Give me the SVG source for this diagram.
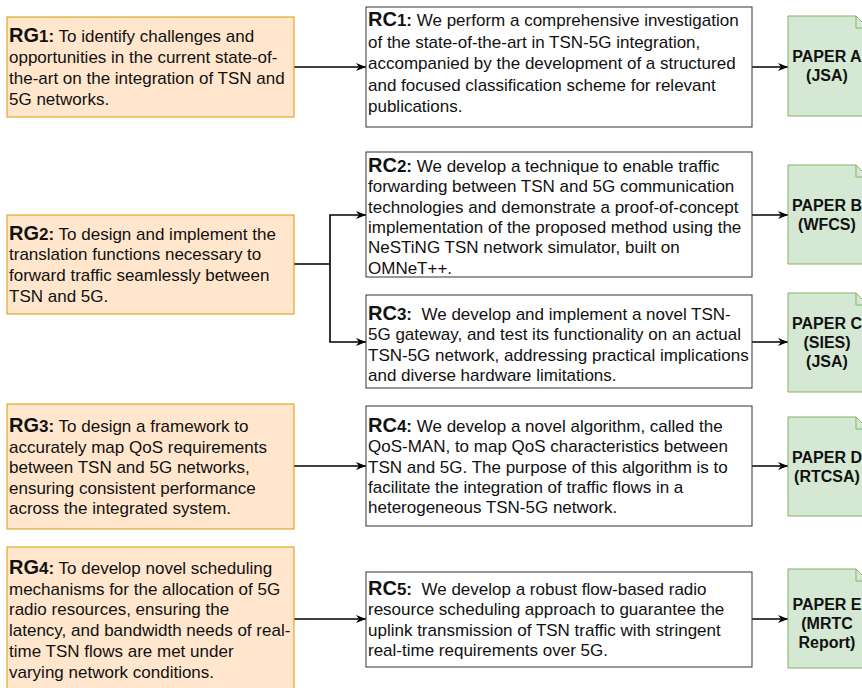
<svg xmlns="http://www.w3.org/2000/svg" width="862" height="688" viewBox="0 0 862 688">
<defs>
<style>
.rg{fill:#ffe6cc;stroke:#d79b00;stroke-width:1}
.rc{fill:#ffffff;stroke:#333333;stroke-width:1}
.pp{fill:#d5e8d4;stroke:#82b366;stroke-width:1}
.fold{fill:none;stroke:#82b366;stroke-width:1}
.t{font-family:"Liberation Sans",Arial,Helvetica,sans-serif;font-size:17px;fill:#111111}
.big{font-size:20px;font-weight:bold}
.b{font-weight:bold}
.pt{font-family:"Liberation Sans",Arial,Helvetica,sans-serif;font-size:16px;font-weight:bold;fill:#111111;text-anchor:middle}
.c{fill:none;stroke:#000000;stroke-width:1.6}
</style>
<marker id="arr" markerUnits="userSpaceOnUse" viewBox="0 0 10 8" markerWidth="10" markerHeight="8" refX="10" refY="4" orient="auto">
<path d="M0,0 L10,4 L0,8 L3,4 Z" fill="#000000"/>
</marker>
</defs>

<g id="connectors">
<path class="c" d="M294,67 H366" marker-end="url(#arr)"/>
<path class="c" d="M752,67 H788" marker-end="url(#arr)"/>
<path class="c" d="M294,264 H330 V215 H366" marker-end="url(#arr)"/>
<path class="c" d="M330,264 V342 H366" marker-end="url(#arr)"/>
<path class="c" d="M752,215 H788" marker-end="url(#arr)"/>
<path class="c" d="M752,342 H788" marker-end="url(#arr)"/>
<path class="c" d="M294,466 H366" marker-end="url(#arr)"/>
<path class="c" d="M752,466 H788" marker-end="url(#arr)"/>
<path class="c" d="M294,619 H366" marker-end="url(#arr)"/>
<path class="c" d="M752,619 H788" marker-end="url(#arr)"/>
</g>

<g id="RG1">
<rect class="rg" x="7" y="17" width="287" height="100"/>
<text class="t" x="9" y="42"><tspan class="big">RG</tspan><tspan class="b">1:</tspan> To identify challenges and</text>
<text class="t" x="9" y="63">opportunities in the current state-of-</text>
<text class="t" x="9" y="84">the-art on the integration of TSN and</text>
<text class="t" x="9" y="104.5">5G networks.</text>
</g>

<g id="RC1">
<rect class="rc" x="366" y="7" width="386" height="120"/>
<text class="t" x="368" y="26"><tspan class="big">RC</tspan><tspan class="b">1:</tspan> We perform a comprehensive investigation</text>
<text class="t" x="368" y="47.5">of the state-of-the-art in TSN-5G integration,</text>
<text class="t" x="368" y="69">accompanied by the development of a structured</text>
<text class="t" x="368" y="90.5">and focused classification scheme for relevant</text>
<text class="t" x="368" y="112">publications.</text>
</g>

<g id="PAPER_A">
<path class="pp" d="M788,16 H856 L868,28 V116 H788 Z"/>
<path class="fold" d="M856,16 V28 H868"/>
<text class="pt" x="827" y="62">PAPER A</text>
<text class="pt" x="827" y="81">(JSA)</text>
</g>

<g id="RG2">
<rect class="rg" x="7" y="215" width="287" height="99"/>
<text class="t" x="9" y="239.5"><tspan class="big">RG</tspan><tspan class="b">2:</tspan> To design and implement the</text>
<text class="t" x="9" y="260.2">translation functions necessary to</text>
<text class="t" x="9" y="280.9">forward traffic seamlessly between</text>
<text class="t" x="9" y="301.6">TSN and 5G.</text>
</g>

<g id="RC2">
<rect class="rc" x="366" y="152" width="386" height="125"/>
<text class="t" x="368" y="172"><tspan class="big">RC</tspan><tspan class="b">2:</tspan> We develop a technique to enable traffic</text>
<text class="t" x="368" y="192.3">forwarding between TSN and 5G communication</text>
<text class="t" x="368" y="212.6">technologies and demonstrate a proof-of-concept</text>
<text class="t" x="368" y="232.9">implementation of the proposed method using the</text>
<text class="t" x="368" y="253.2">NeSTiNG TSN network simulator, built on</text>
<text class="t" x="368" y="273.5">OMNeT++.</text>
</g>

<g id="PAPER_B">
<path class="pp" d="M788,165 H856 L868,177 V264 H788 Z"/>
<path class="fold" d="M856,165 V177 H868"/>
<text class="pt" x="827" y="210.5">PAPER B</text>
<text class="pt" x="827" y="229.5">(WFCS)</text>
</g>

<g id="RC3">
<rect class="rc" x="366" y="295" width="386" height="93"/>
<text class="t" x="368" y="320"><tspan class="big">RC</tspan><tspan class="b">3:</tspan>&#160; We develop and implement a novel TSN-</text>
<text class="t" x="368" y="340.3">5G gateway, and test its functionality on an actual</text>
<text class="t" x="368" y="360.6">TSN-5G network, addressing practical implications</text>
<text class="t" x="368" y="380.9">and diverse hardware limitations.</text>
</g>

<g id="PAPER_C">
<path class="pp" d="M788,293 H856 L868,305 V392 H788 Z"/>
<path class="fold" d="M856,293 V305 H868"/>
<text class="pt" x="827" y="329">PAPER C</text>
<text class="pt" x="827" y="348">(SIES)</text>
<text class="pt" x="827" y="367">(JSA)</text>
</g>

<g id="RG3">
<rect class="rg" x="7" y="404" width="287" height="125"/>
<text class="t" x="9" y="432"><tspan class="big">RG</tspan><tspan class="b">3:</tspan> To design a framework to</text>
<text class="t" x="9" y="452.6">accurately map QoS requirements</text>
<text class="t" x="9" y="473.2">between TSN and 5G networks,</text>
<text class="t" x="9" y="493.8">ensuring consistent performance</text>
<text class="t" x="9" y="514.4">across the integrated system.</text>
</g>

<g id="RC4">
<rect class="rc" x="366" y="406" width="386" height="120"/>
<text class="t" x="368" y="432"><tspan class="big">RC</tspan><tspan class="b">4:</tspan> We develop a novel algorithm, called the</text>
<text class="t" x="368" y="452.3">QoS-MAN, to map QoS characteristics between</text>
<text class="t" x="368" y="472.6">TSN and 5G. The purpose of this algorithm is to</text>
<text class="t" x="368" y="492.9">facilitate the integration of traffic flows in a</text>
<text class="t" x="368" y="513.2">heterogeneous TSN-5G network.</text>
</g>

<g id="PAPER_D">
<path class="pp" d="M788,417 H856 L868,429 V516 H788 Z"/>
<path class="fold" d="M856,417 V429 H868"/>
<text class="pt" x="827" y="462.5">PAPER D</text>
<text class="pt" x="827" y="481.5">(RTCSA)</text>
</g>

<g id="RG4">
<rect class="rg" x="7" y="547" width="287" height="144"/>
<text class="t" x="9" y="574"><tspan class="big">RG</tspan><tspan class="b">4:</tspan> To develop novel scheduling</text>
<text class="t" x="9" y="594.7">mechanisms for the allocation of 5G</text>
<text class="t" x="9" y="615.4">radio resources, ensuring the</text>
<text class="t" x="9" y="636.1">latency, and bandwidth needs of real-</text>
<text class="t" x="9" y="656.8">time TSN flows are met under</text>
<text class="t" x="9" y="677.5">varying network conditions.</text>
</g>

<g id="RC5">
<rect class="rc" x="366" y="572" width="386" height="95"/>
<text class="t" x="368" y="595"><tspan class="big">RC</tspan><tspan class="b">5:</tspan>&#160; We develop a robust flow-based radio</text>
<text class="t" x="368" y="615.3">resource scheduling approach to guarantee the</text>
<text class="t" x="368" y="635.6">uplink transmission of TSN traffic with stringent</text>
<text class="t" x="368" y="655.9">real-time requirements over 5G.</text>
</g>

<g id="PAPER_E">
<path class="pp" d="M788,569 H856 L868,581 V668 H788 Z"/>
<path class="fold" d="M856,569 V581 H868"/>
<text class="pt" x="827" y="610">PAPER E</text>
<text class="pt" x="827" y="629">(MRTC</text>
<text class="pt" x="827" y="648">Report)</text>
</g>
</svg>
